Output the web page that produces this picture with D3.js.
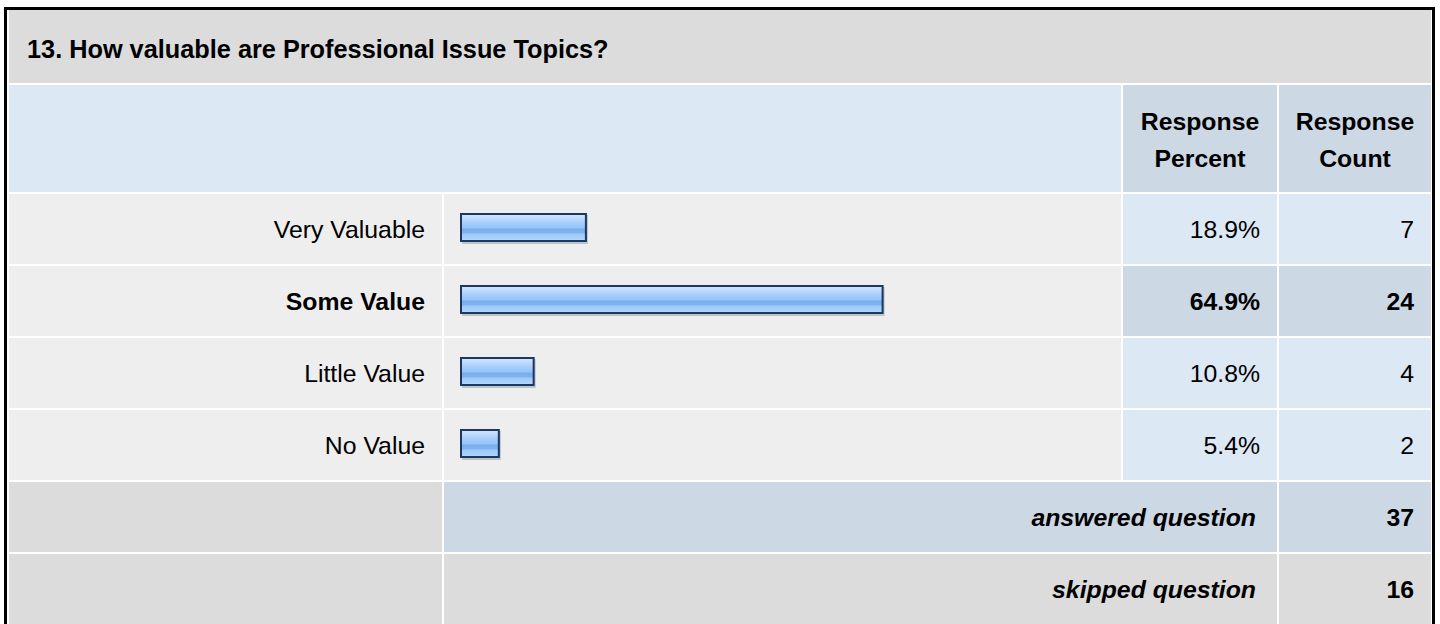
<!DOCTYPE html>
<html>
<head>
<meta charset="utf-8">
<script src="https://d3js.org/d3.v7.min.js"></script>
<style>
body { margin: 0; background: #fff; }
svg text { font-family: "Liberation Sans", Arial, sans-serif; font-size: 24.8px; fill: #000; }
.bold { font-weight: bold; }
.bi { font-weight: bold; font-style: italic; }
.title { font-size: 25.3px; font-weight: bold; }
</style>
</head>
<body>
<script>

var title = "13. How valuable are Professional Issue Topics?";
var categories = ["Very Valuable", "Some Value", "Little Value", "No Value"];
var percents = [18.9, 64.9, 10.8, 5.4];
var counts = [7, 24, 4, 2];
var headerLabels = [["Response", "Percent"], ["Response", "Count"]];
var summaryLabels = ["answered question", "skipped question"];
var summaryValues = [37, 16];

var width = 1440, height = 624;

// column edges
var col = {
  label: [9, 442],
  bar: [444, 1121],
  pct: [1123, 1277],
  cnt: [1279, 1431]
};

var gray = "#dcdcdc", rowGray = "#eeeeee", lightBlue = "#dde8f5", darkBlue = "#cdd8e5";

var svg = d3.select("body").append("svg")
    .attr("width", width)
    .attr("height", height);

var defs = svg.append("defs");
var grad = defs.append("linearGradient")
    .attr("id", "barGrad")
    .attr("x1", 0).attr("y1", 0).attr("x2", 0).attr("y2", 1);
[[0, "#d3e7fe"], [0.18, "#bcdafd"], [0.35, "#a3cdfa"], [0.52, "#93c3f7"],
 [0.56, "#78aeea"], [0.7, "#7eb3ee"], [0.74, "#9cc9f8"], [1, "#b3d7fc"]]
  .forEach(function(s) {
    grad.append("stop").attr("offset", s[0]).attr("stop-color", s[1]);
  });

function cell(x0, x1, y, h, fill) {
  svg.append("rect")
    .attr("x", x0).attr("y", y)
    .attr("width", x1 - x0).attr("height", h)
    .style("fill", fill);
}

// title row
cell(col.label[0], col.cnt[1], 10, 73, gray);
svg.append("text")
  .attr("class", "title")
  .attr("x", 27)
  .attr("y", 58)
  .text(title);

// header row
cell(col.label[0], col.bar[1], 85, 107, lightBlue);
cell(col.pct[0], col.pct[1], 85, 107, darkBlue);
cell(col.cnt[0], col.cnt[1], 85, 107, darkBlue);

[col.pct, col.cnt].forEach(function(c, i) {
  var t = svg.append("text")
    .attr("class", "bold")
    .attr("text-anchor", "middle")
    .attr("x", (c[0] + c[1]) / 2);
  t.append("tspan").attr("x", (c[0] + c[1]) / 2).attr("y", 130).text(headerLabels[i][0]);
  t.append("tspan").attr("x", (c[0] + c[1]) / 2).attr("y", 167).text(headerLabels[i][1]);
});

// data rows
var y = d3.scaleBand()
  .domain(categories)
  .range([194, 480])
  .paddingInner(2 / 72);

var x = d3.scaleLinear()
  .domain([0, 100])
  .range([0, 645]);

var maxPct = d3.max(percents);

var rows = svg.selectAll(".row")
  .data(categories.map(function(c, i) {
    return { cat: c, pct: percents[i], cnt: counts[i], top: percents[i] === maxPct };
  }))
  .enter().append("g")
  .attr("class", "row")
  .attr("transform", function(d) { return "translate(0," + y(d.cat) + ")"; });

var bh = y.bandwidth();

rows.append("rect").attr("x", col.label[0]).attr("width", col.label[1] - col.label[0])
  .attr("height", bh).style("fill", rowGray);
rows.append("rect").attr("x", col.bar[0]).attr("width", col.bar[1] - col.bar[0])
  .attr("height", bh).style("fill", rowGray);
rows.append("rect").attr("x", col.pct[0]).attr("width", col.pct[1] - col.pct[0])
  .attr("height", bh).style("fill", function(d) { return d.top ? darkBlue : lightBlue; });
rows.append("rect").attr("x", col.cnt[0]).attr("width", col.cnt[1] - col.cnt[0])
  .attr("height", bh).style("fill", function(d) { return d.top ? darkBlue : lightBlue; });

// bar shadow + bar
rows.append("rect")
  .attr("x", 462)
  .attr("y", 21)
  .attr("width", function(d) { return x(d.pct) + 4; })
  .attr("height", 29)
  .style("fill", "#9aa6b4")
  .style("opacity", 0.6);
rows.append("rect")
  .attr("x", 461)
  .attr("y", 20)
  .attr("width", function(d) { return x(d.pct) + 3; })
  .attr("height", 27)
  .style("fill", "url(#barGrad)")
  .style("stroke", "#1d3760")
  .style("stroke-width", 2);

rows.append("text")
  .attr("class", function(d) { return d.top ? "bold" : null; })
  .attr("text-anchor", "end")
  .attr("x", col.label[1] - 17)
  .attr("y", bh / 2 + 8.5)
  .text(function(d) { return d.cat; });

rows.append("text")
  .attr("class", function(d) { return d.top ? "bold" : null; })
  .attr("text-anchor", "end")
  .attr("x", col.pct[1] - 17)
  .attr("y", bh / 2 + 8.5)
  .text(function(d) { return d.pct.toFixed(1) + "%"; });

rows.append("text")
  .attr("class", function(d) { return d.top ? "bold" : null; })
  .attr("text-anchor", "end")
  .attr("x", col.cnt[1] - 17)
  .attr("y", bh / 2 + 8.5)
  .text(function(d) { return d.cnt; });

// summary rows
summaryLabels.forEach(function(lab, i) {
  var top = 482 + i * 72;
  var mid = i === 0 ? darkBlue : gray;
  cell(col.label[0], col.label[1], top, 70, gray);
  cell(col.bar[0], col.pct[1], top, 70, mid);
  cell(col.cnt[0], col.cnt[1], top, 70, mid);
  svg.append("text")
    .attr("class", "bi")
    .attr("text-anchor", "end")
    .attr("x", col.pct[1] - 21)
    .attr("y", top + 35 + 8.5)
    .text(lab);
  svg.append("text")
    .attr("class", "bold")
    .attr("text-anchor", "end")
    .attr("x", col.cnt[1] - 17)
    .attr("y", top + 35 + 8.5)
    .text(summaryValues[i]);
});

// outer border
svg.append("rect")
  .attr("x", 5.5)
  .attr("y", 8.5)
  .attr("width", 1428)
  .attr("height", 700)
  .style("fill", "none")
  .style("stroke", "#000")
  .style("stroke-width", 3);

</script>
</body>
</html>
